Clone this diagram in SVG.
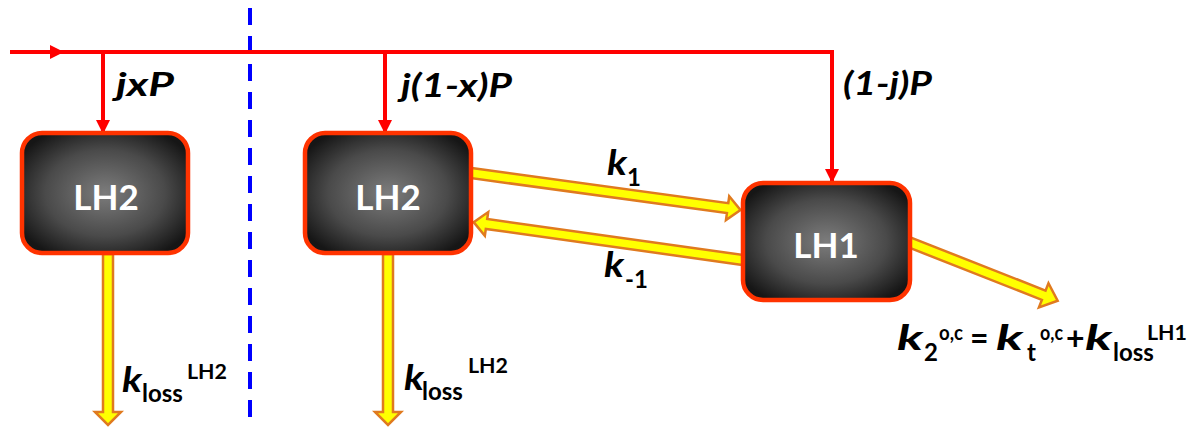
<svg xmlns="http://www.w3.org/2000/svg" width="1198" height="428" viewBox="0 0 1198 428">
<defs>
<radialGradient id="boxg" cx="50%" cy="50%" r="60%">
<stop offset="0" stop-color="#7c7c7c"/>
<stop offset="0.6" stop-color="#4a4a4a"/>
<stop offset="1" stop-color="#161616"/>
</radialGradient>
<marker id="rh" markerWidth="14" markerHeight="14" viewBox="0 0 14 14" refX="13" refY="7" orient="auto" markerUnits="userSpaceOnUse">
<path d="M0,0 L14,7 L0,14 Z" fill="#FF0000"/>
</marker>
<style>
.red{stroke:#FF0000;stroke-width:4;fill:none}
.fat{fill:#FFFF00;stroke:#E07A1F;stroke-width:2.5;stroke-linejoin:miter}
.box{fill:url(#boxg);stroke:#FF3300;stroke-width:4.5}
.bl{font-family:Lato,"Open Sans",sans-serif;font-weight:bold;fill:#fff;font-size:35px;text-anchor:middle}
.lab{font-family:Lato,"Open Sans",sans-serif;font-weight:bold;font-style:italic;fill:#000;font-size:32px}
.k{font-family:Lato,"Open Sans",sans-serif;font-weight:bold;fill:#000;font-size:24px}
.ki{font-family:Lato,"Open Sans",sans-serif;font-weight:bold;fill:#000;font-style:italic;font-size:35px}
.sp{font-family:Lato,"Open Sans",sans-serif;font-weight:bold;fill:#000;font-size:21px}
.op{font-family:Lato,"Open Sans",sans-serif;font-weight:bold;fill:#000;font-size:32px}
</style>
</defs>
<line x1="250" y1="8" x2="250" y2="426" stroke="#0000FF" stroke-width="4" stroke-dasharray="17,11"/>
<g id="connectors">
<polyline class="red" points="10,52 832,52 832,182" marker-end="url(#rh)"/>
<path d="M50,45 L64,52 L50,59 Z" fill="#FF0000"/>
<line class="red" x1="103" y1="52" x2="103" y2="133" marker-end="url(#rh)"/>
<line class="red" x1="385" y1="52" x2="385" y2="133" marker-end="url(#rh)"/>
<path class="fat" transform="translate(108,254) rotate(90)" d="M0,-5 L158,-5 L158,-13 L171,0 L158,13 L158,5 L0,5 Z"/>
<path class="fat" transform="translate(388,254) rotate(90)" d="M0,-5 L158,-5 L158,-13 L171,0 L158,13 L158,5 L0,5 Z"/>
<path class="fat" transform="translate(471,173) rotate(7.8)" d="M0,-5 L259,-5 L259,-12 L272,0 L259,12 L259,5 L0,5 Z"/>
<path class="fat" transform="translate(743,260) rotate(188)" d="M0,-5 L259,-5 L259,-12 L272,0 L259,12 L259,5 L0,5 Z"/>
<path class="fat" transform="translate(906,241) rotate(21.5)" d="M0,-5 L148,-5 L148,-13 L163,0 L148,13 L148,5 L0,5 Z"/>
</g>
<g id="lh2a"><rect class="box" x="22" y="133" width="166" height="120" rx="20"/><text class="bl" x="106" y="210">LH2</text></g>
<g id="lh2b"><rect class="box" x="305" y="133" width="166" height="120" rx="20"/><text class="bl" x="388" y="210">LH2</text></g>
<g id="lh1"><rect class="box" x="743" y="183" width="167" height="117" rx="20"/><text class="bl" x="826" y="258">LH1</text></g>
<text class="lab" x="116" y="96" textLength="58" lengthAdjust="spacingAndGlyphs">jxP</text>
<text class="lab" x="401" y="97" textLength="111" lengthAdjust="spacingAndGlyphs">j(1-x)P</text>
<text class="lab" x="843" y="95" textLength="89" lengthAdjust="spacingAndGlyphs">(1-j)P</text>
<text class="ki" x="607" y="175" textLength="20" lengthAdjust="spacingAndGlyphs">k</text><text class="k" x="627" y="186">1</text>
<text class="ki" x="604" y="277" textLength="20" lengthAdjust="spacingAndGlyphs">k</text><text class="k" x="625" y="288">-1</text>
<text class="ki" x="122" y="392" textLength="20" lengthAdjust="spacingAndGlyphs">k</text><text class="k" x="142" y="402">loss</text><text class="sp" x="187" y="379" textLength="40" lengthAdjust="spacingAndGlyphs">LH2</text>
<text class="ki" x="404" y="390" textLength="20" lengthAdjust="spacingAndGlyphs">k</text><text class="k" x="422" y="400">loss</text><text class="sp" x="468" y="373" textLength="40" lengthAdjust="spacingAndGlyphs">LH2</text>
<text class="ki" x="897" y="350" textLength="26" lengthAdjust="spacingAndGlyphs">k</text>
<text class="k" x="924" y="361">2</text>
<text class="sp" x="939" y="340" textLength="24" lengthAdjust="spacingAndGlyphs">o,c</text>
<text class="op" x="970" y="350">=</text>
<text class="ki" x="996" y="350" textLength="27" lengthAdjust="spacingAndGlyphs">k</text>
<text class="k" x="1027" y="361">t</text>
<text class="sp" x="1040" y="340" textLength="23" lengthAdjust="spacingAndGlyphs">o,c</text>
<text class="op" x="1066" y="350">+</text>
<text class="ki" x="1085" y="350" textLength="27" lengthAdjust="spacingAndGlyphs">k</text>
<text class="k" x="1113" y="361">loss</text>
<text class="sp" x="1147" y="340" textLength="40" lengthAdjust="spacingAndGlyphs">LH1</text>
</svg>
